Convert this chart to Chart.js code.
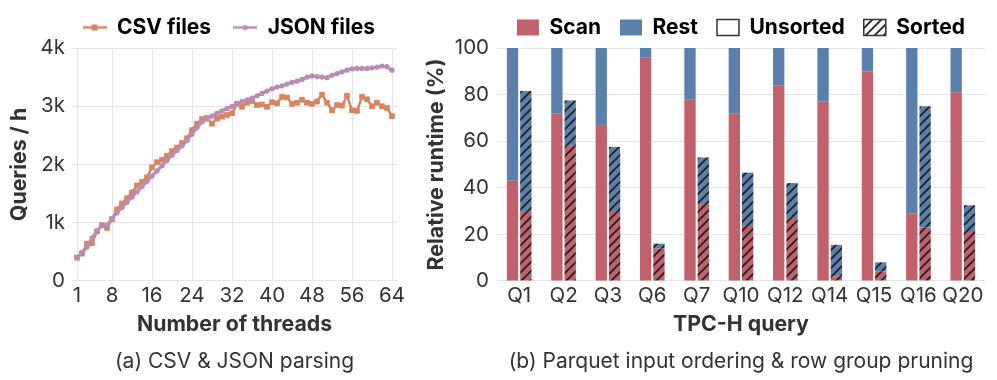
<!DOCTYPE html>
<html>
<head>
<meta charset="utf-8">
<script src="https://cdn.jsdelivr.net/npm/chart.js@4/dist/chart.umd.min.js"></script>
<style>
  body { margin: 0; background: #fff; width: 997px; height: 380px; overflow: hidden; }
  #c1 { position: absolute; left: 0; top: 0; }
  #c2 { position: absolute; left: 415px; top: 0; }
</style>
</head>
<body>
<canvas id="c1" width="415" height="380"></canvas>
<canvas id="c2" width="582" height="380"></canvas>
<script>
// (a) queries per hour by number of threads
const threads = [1, 2, 3, 4, 5, 6, 7, 8, 9, 10, 11, 12, 13, 14, 15, 16,
    17, 18, 19, 20, 21, 22, 23, 24, 25, 26, 27, 28, 29, 30, 31, 32,
    33, 34, 35, 36, 37, 38, 39, 40, 41, 42, 43, 44, 45, 46, 47, 48,
    49, 50, 51, 52, 53, 54, 55, 56, 57, 58, 59, 60, 61, 62, 63, 64];
const csvFiles = [400, 470, 640, 650, 850, 960, 910, 1060, 1230, 1330, 1420, 1520, 1640, 1700, 1780, 1950,
    2040, 2080, 2150, 2230, 2290, 2370, 2450, 2590, 2700, 2780, 2800, 2700, 2790, 2820, 2850, 2880,
    3040, 2990, 3060, 3090, 3020, 3030, 2990, 3070, 3050, 3160, 3150, 3040, 3060, 3110, 3060, 3040,
    3080, 3200, 3060, 2930, 3020, 3010, 3180, 2930, 2920, 3160, 3120, 3000, 3060, 3000, 2970, 2830];
const jsonFiles = [400, 490, 580, 740, 860, 950, 960, 1070, 1170, 1260, 1350, 1440, 1530, 1620, 1710, 1800,
    1890, 1980, 2070, 2160, 2240, 2320, 2410, 2520, 2630, 2730, 2780, 2830, 2880, 2920, 2960, 3000,
    3040, 3080, 3110, 3140, 3180, 3220, 3260, 3300, 3330, 3350, 3380, 3410, 3430, 3460, 3500, 3520,
    3510, 3500, 3490, 3530, 3560, 3590, 3620, 3640, 3650, 3650, 3650, 3660, 3670, 3690, 3680, 3620];
const threadTicks = [1, 8, 16, 24, 32, 40, 48, 56, 64];

// (b) relative runtime per TPC-H query
const queries = ['Q1', 'Q2', 'Q3', 'Q6', 'Q7', 'Q10', 'Q12', 'Q14', 'Q15', 'Q16', 'Q20'];
const unsortedScan = [43, 72, 67, 96, 78, 72, 84, 77, 90, 29, 81];
const unsortedRest = [57, 28, 33, 4, 22, 28, 16, 23, 10, 71, 19];
const sortedScan = [30, 58, 30, 14, 33, 24, 27, 2, 4, 23, 21];
const sortedRest = [51.5, 19.5, 27.5, 2, 20, 22.5, 15, 13.5, 4, 52, 11.5];

Chart.defaults.font.family = 'Inter';
Chart.defaults.color = '#333';
Chart.defaults.animation = false;
Chart.defaults.plugins.tooltip.enabled = false;

const gridColor = '#e4e4ea';
const csvColor = '#d8845f';
const jsonColor = '#b98cb6';
const scanColor = '#c0616b';
const restColor = '#5c80ac';

function hatch(color) {
    const c = document.createElement('canvas');
    c.width = 9; c.height = 9;
    const x = c.getContext('2d');
    x.fillStyle = color;
    x.fillRect(0, 0, 9, 9);
    x.strokeStyle = '#222';
    x.lineWidth = 1.8;
    x.beginPath();
    x.moveTo(-1, 10); x.lineTo(10, -1);
    x.moveTo(-1, 1); x.lineTo(1, -1);
    x.moveTo(8, 10); x.lineTo(10, 8);
    x.stroke();
    return x.createPattern(c, 'repeat');
}

// little line + marker used in the left legend
function legendMark(color, square) {
    const c = document.createElement('canvas');
    c.width = 24; c.height = 10;
    const x = c.getContext('2d');
    x.strokeStyle = color; x.fillStyle = color; x.lineWidth = 2.5;
    x.beginPath(); x.moveTo(0, 5); x.lineTo(24, 5); x.stroke();
    if (square) {
        x.fillRect(9, 2, 6, 6);
    } else {
        x.beginPath(); x.arc(12, 5, 2.6, 0, Math.PI * 2); x.fill();
    }
    return c;
}

const tickFont = { size: 20.5 };
const titleFont = { size: 21.3, weight: 'bold' };
const legendFont = { size: 21, weight: 'bold' };
const captionFont = { size: 21, weight: 'normal' };

new Chart(document.getElementById('c1'), {
    type: 'line',
    data: {
        datasets: [{
            label: 'CSV files',
            data: threads.map((t, i) => ({ x: t, y: csvFiles[i] })),
            borderColor: csvColor,
            backgroundColor: csvColor,
            borderWidth: 2.5,
            pointStyle: 'rect',
            pointRadius: 4,
            pointBorderWidth: 0,
            order: 1
        }, {
            label: 'JSON files',
            data: threads.map((t, i) => ({ x: t, y: jsonFiles[i] })),
            borderColor: jsonColor,
            backgroundColor: jsonColor,
            borderWidth: 3,
            pointStyle: 'circle',
            pointRadius: 2.6,
            pointBorderWidth: 0,
            order: 0
        }]
    },
    options: {
        responsive: false,
        layout: { padding: { top: -5, right: 18, left: 0, bottom: 0 } },
        scales: {
            x: {
                type: 'linear',
                min: 0,
                max: 65,
                afterBuildTicks: s => { s.ticks = threadTicks.map(v => ({ value: v })); },
                ticks: { font: tickFont, padding: 3, maxRotation: 0, autoSkip: false },
                grid: { color: gridColor, drawTicks: false },
                border: { display: false },
                title: { display: true, text: 'Number of threads', font: titleFont, padding: 0 }
            },
            y: {
                min: 0,
                max: 4000,
                ticks: {
                    stepSize: 1000,
                    font: tickFont,
                    padding: 7,
                    callback: v => v === 0 ? '0' : (v / 1000) + 'k'
                },
                grid: { color: gridColor, drawTicks: false },
                border: { display: false },
                title: { display: true, text: 'Queries / h', font: titleFont, padding: { top: 7.2, bottom: 0 } },
                afterFit: s => { s.width = 72; }
            }
        },
        plugins: {
            legend: {
                align: 'end',
                onClick: null,
                labels: {
                    font: legendFont,
                    padding: 22,
                    usePointStyle: true,
                    pointStyleWidth: 24,
                    generateLabels: () => [
                        { text: 'CSV files', pointStyle: legendMark(csvColor, true), fillStyle: csvColor, strokeStyle: csvColor, lineWidth: 0 },
                        { text: 'JSON files', pointStyle: legendMark(jsonColor, false), fillStyle: jsonColor, strokeStyle: jsonColor, lineWidth: 0 }
                    ]
                }
            },
            title: {
                display: true,
                position: 'bottom',
                fullSize: false,
                text: '(a) CSV & JSON parsing',
                font: captionFont,
                color: '#333',
                padding: { top: 11.7, bottom: 6 }
            }
        }
    }
});

new Chart(document.getElementById('c2'), {
    type: 'bar',
    data: {
        labels: queries,
        datasets: [
            { label: 'Scan', data: unsortedScan, backgroundColor: scanColor, stack: 'unsorted' },
            { label: 'Rest', data: unsortedRest, backgroundColor: restColor, stack: 'unsorted' },
            { label: 'Scan (sorted)', data: sortedScan, backgroundColor: hatch(scanColor), stack: 'sorted' },
            { label: 'Rest (sorted)', data: sortedRest, backgroundColor: hatch(restColor), stack: 'sorted' }
        ]
    },
    options: {
        responsive: false,
        categoryPercentage: 0.6,
        barPercentage: 0.85,
        layout: { padding: { top: -2, right: 12, left: 0, bottom: 0 } },
        scales: {
            x: {
                stacked: true,
                ticks: { font: tickFont, padding: 3, maxRotation: 0, autoSkip: false },
                grid: { display: false, drawTicks: false },
                border: { display: false },
                title: { display: true, text: 'TPC-H query', font: titleFont, padding: 0 }
            },
            y: {
                stacked: true,
                min: 0,
                max: 100,
                ticks: { stepSize: 20, font: tickFont, padding: 8 },
                grid: { color: gridColor, drawTicks: false },
                border: { display: false },
                title: { display: true, text: 'Relative runtime (%)', font: titleFont, padding: { top: 9.2, bottom: 0 } },
                afterFit: s => { s.width = 82; }
            }
        },
        plugins: {
            legend: {
                fullSize: false,
                onClick: null,
                labels: {
                    font: legendFont,
                    padding: 19,
                    boxWidth: 22,
                    boxHeight: 16,
                    generateLabels: () => [
                        { text: 'Scan', fillStyle: scanColor, strokeStyle: scanColor, lineWidth: 0 },
                        { text: 'Rest', fillStyle: restColor, strokeStyle: restColor, lineWidth: 0 },
                        { text: 'Unsorted', fillStyle: '#fff', strokeStyle: '#333', lineWidth: 1.5 },
                        { text: 'Sorted', fillStyle: hatch('#fff'), strokeStyle: '#333', lineWidth: 1.5 }
                    ]
                }
            },
            title: {
                display: true,
                position: 'bottom',
                fullSize: false,
                text: '(b) Parquet input ordering & row group pruning',
                font: captionFont,
                color: '#333',
                padding: { top: 11.7, bottom: 6 }
            }
        }
    }
});
</script>
</body>
</html>
